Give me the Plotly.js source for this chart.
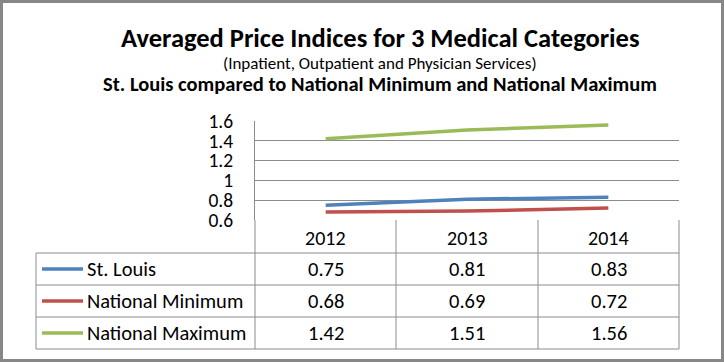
<!DOCTYPE html>
<html><head><meta charset="utf-8">
<script src="https://cdn.plot.ly/plotly-3.0.1.min.js"></script>
<style>body{margin:0;background:#fff}#c{width:724px;height:362px}</style>
</head><body><div id="c"></div>
<script>
const years = ["2012", "2013", "2014"];
const seriesNames = ["St. Louis", "National Minimum", "National Maximum"];
const stLouis = [0.75, 0.81, 0.83];
const natMin = [0.68, 0.69, 0.72];
const natMax = [1.42, 1.51, 1.56];
const yTicks = [0.6, 0.8, 1, 1.2, 1.4, 1.6];

const W = 724, H = 362;
const L = 255, R = 679, T = 121, B = 220;
const px = x => (x - L) / (R - L);
const py = y => (B - y) / (B - T);
const FONT = "Carlito, Lato, sans-serif";
const GRID = "#8c8c8c";
const colors = ["#4F81BD", "#C0504D", "#9BBB59"];
const values = [stLouis, natMin, natMax];

const traces = values.map((v, i) => ({
  x: years, y: v, type: "scatter", mode: "lines", name: seriesNames[i],
  line: {color: colors[i], width: 3.5}, hoverinfo: "skip"
}));

const shapes = [];
const annotations = [];
const line = (x0, y0, x1, y1, color, w) => shapes.push({
  type: "line", xref: "paper", yref: "paper",
  x0: px(x0), y0: py(y0), x1: px(x1), y1: py(y1),
  line: {color: color, width: w}
});
// outer border
shapes.push({type: "rect", xref: "paper", yref: "paper",
  x0: px(1.5), y0: py(1.5), x1: px(W - 1.5), y1: py(H - 1.5),
  line: {color: "#878787", width: 3}});

// table geometry
const colX = [L, 396, 538, R];
const rowY = [B, 253, 285, 317, 349];
for (let r = 1; r < rowY.length; r++) line(36, rowY[r], R, rowY[r], GRID, 1);
colX.forEach(x => line(x, B, x, rowY[rowY.length - 1], GRID, 1));
line(36, rowY[1], 36, rowY[rowY.length - 1], GRID, 1);

const txt = (x, y, t, size, opts) => annotations.push(Object.assign({
  xref: "paper", yref: "paper", x: px(x), y: py(y), text: t, showarrow: false,
  xanchor: "center", yanchor: "middle",
  font: {family: FONT, size: size, color: "#000"}
}, opts || {}));

// header years
years.forEach((yr, j) => txt((colX[j] + colX[j + 1]) / 2, (rowY[0] + rowY[1]) / 2 + 1, yr, 20));
// rows
seriesNames.forEach((n, i) => {
  const cy = (rowY[i + 1] + rowY[i + 2]) / 2;
  line(42, cy, 83, cy, colors[i], 3.5);
  txt(85, cy, n, 20.5, {xanchor: "left"});
  values[i].forEach((v, j) => txt((colX[j] + colX[j + 1]) / 2, cy, v.toFixed(2), 20.5));
});

// titles
txt(380, 38, "<b>Averaged Price Indices for 3 Medical Categories</b>", 26.5);
txt(380, 63, "(Inpatient, Outpatient and Physician Services)", 17);
txt(380, 84, "<b>St. Louis compared to National Minimum and National Maximum</b>", 20.5);

const layout = {
  width: W, height: H, showlegend: false,
  margin: {l: L, r: W - R, t: T, b: H - B, pad: 0},
  paper_bgcolor: "#fff", plot_bgcolor: "#fff",
  xaxis: {type: "category", range: [-0.5, 2.5], showticklabels: false, showgrid: false,
    zeroline: false, showline: false, ticks: ""},
  yaxis: {range: [0.6, 1.6], tickvals: yTicks, ticktext: yTicks.map(String),
    showgrid: true, gridcolor: GRID, gridwidth: 1, zeroline: false,
    showline: true, linecolor: GRID, linewidth: 1, ticks: "", ticklen: 0,
    ticklabelstandoff: 17,
    tickfont: {family: FONT, size: 19.5, color: "#000"}},
  shapes: shapes, annotations: annotations
};
Plotly.newPlot("c", traces, layout, {staticPlot: true});
</script></body></html>
